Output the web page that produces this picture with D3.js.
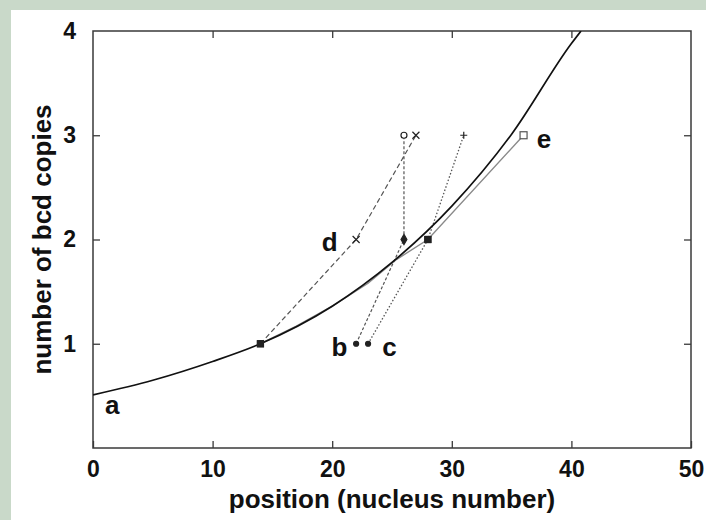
<!DOCTYPE html>
<html>
<head>
<meta charset="utf-8">
<script src="https://cdn.jsdelivr.net/npm/d3@7"></script>
<style>
  html, body { margin: 0; padding: 0; background: #c9d9c9; }
  svg { display: block; }
  text { font-family: "Liberation Sans", Arial, Helvetica, sans-serif; font-weight: bold; fill: #111; }
</style>
</head>
<body>
<svg id="chart" width="706" height="520"></svg>
<script>
// Theoretical bcd copy-number profile (curve a)
const curveX = [0, 5, 10, 14, 20, 25, 30, 35, 40, 40.8];
const curveY = [0.51, 0.65, 0.83, 1.00, 1.36, 1.78, 2.32, 3.01, 3.88, 4.00];

// Boundary shifts for 1, 2 and 3 copies (series b–e)
const bX = [22, 26, 26], bY = [1, 2, 3];
const cX = [23, 28, 31], cY = [1, 2, 3];
const dX = [14, 22, 27], dY = [1, 2, 3];
const eX = [14, 17, 20, 23, 25.4, 28, 36], eY = [1, 1.17, 1.36, 1.58, 1.81, 2, 3];

// Series name labels and where they sit (data units)
const labelNames = ["a", "b", "c", "d", "e"];
const labelX = [1.6, 20.6, 24.8, 19.8, 37.7];
const labelY = [0.41, 0.97, 0.97, 1.98, 2.96];

const xTicks = [0, 10, 20, 30, 40, 50];
const yTicks = [1, 2, 3, 4];

const svg = d3.select("#chart");

// white page
svg.append("rect").attr("x", 11).attr("y", 10).attr("width", 695).attr("height", 510).attr("fill", "#fff");

const L = 93, R = 691, T = 31, B = 448;
const x = d3.scaleLinear().domain([0, 50]).range([L, R]);
const y = d3.scaleLinear().domain([0, 4]).range([B, T]);

svg.append("defs").append("clipPath").attr("id", "plotclip")
  .append("rect").attr("x", L).attr("y", T).attr("width", R - L).attr("height", B - T);

// axes with inward ticks on all four sides
const frameColor = "#3a3a3a";
function styleAxis(g) {
  g.select(".domain").remove();
  g.selectAll(".tick line").attr("stroke", frameColor).attr("stroke-width", 1.3);
}
function styleLabels(g) {
  g.selectAll(".tick text").attr("font-size", 23)
    .attr("font-family", "Liberation Sans, Arial, sans-serif").attr("font-weight", "bold").attr("fill", "#111");
}
svg.append("g").attr("transform", `translate(0,${B})`)
  .call(d3.axisBottom(x).tickValues(xTicks).tickFormat(d3.format("d")).tickSizeInner(-7).tickSizeOuter(0).tickPadding(13))
  .call(styleAxis).call(styleLabels);
svg.append("g").attr("transform", `translate(0,${T})`)
  .call(d3.axisTop(x).tickValues(xTicks.slice(1, -1)).tickSizeInner(-7).tickSizeOuter(0).tickFormat(""))
  .call(styleAxis);
svg.append("g").attr("class", "yleft").attr("transform", `translate(${L},0)`)
  .call(d3.axisLeft(y).tickValues(yTicks).tickFormat(d3.format("d")).tickSizeInner(-7).tickSizeOuter(0).tickPadding(17))
  .call(styleAxis).call(styleLabels);
svg.append("g").attr("transform", `translate(${R},0)`)
  .call(d3.axisRight(y).tickValues(yTicks.slice(0, -1)).tickSizeInner(-7).tickSizeOuter(0).tickFormat(""))
  .call(styleAxis);

// the top value only carries a label; the frame line stands in for its tick
svg.select(".yleft").selectAll("g.tick").filter(d => d === 4).select("line").remove();

// frame
svg.append("rect").attr("x", L).attr("y", T).attr("width", R - L).attr("height", B - T)
  .attr("fill", "none").attr("stroke", frameColor).attr("stroke-width", 1.5);

// axis titles
svg.append("text").attr("x", (L + R) / 2).attr("y", 508).attr("text-anchor", "middle")
  .attr("font-size", 26).text("position (nucleus number)");
svg.append("text").attr("transform", `translate(51,${(T + B) / 2}) rotate(-90)`).attr("text-anchor", "middle")
  .attr("font-size", 26).text("number of bcd copies");

const plot = svg.append("g").attr("clip-path", "url(#plotclip)");
const toPts = (xs, ys) => xs.map((v, i) => [v, ys[i]]);
const line = d3.line().x(d => x(d[0])).y(d => y(d[1]));

// e: thin grey line
plot.append("path").datum(toPts(eX, eY)).attr("d", line)
  .attr("fill", "none").attr("stroke", "#8a8a8a").attr("stroke-width", 1.4);
// d: long dashes
plot.append("path").datum(toPts(dX, dY)).attr("d", line)
  .attr("fill", "none").attr("stroke", "#555").attr("stroke-width", 1.2).attr("stroke-dasharray", "5,3");
// b: short dashes
plot.append("path").datum(toPts(bX, bY)).attr("d", line)
  .attr("fill", "none").attr("stroke", "#555").attr("stroke-width", 1.2).attr("stroke-dasharray", "3,2");
// c: dots
plot.append("path").datum(toPts(cX, cY)).attr("d", line)
  .attr("fill", "none").attr("stroke", "#555").attr("stroke-width", 1.3).attr("stroke-dasharray", "1.5,2");
// a: smooth curve
plot.append("path").datum(toPts(curveX, curveY))
  .attr("d", d3.line().x(d => x(d[0])).y(d => y(d[1])).curve(d3.curveMonotoneX))
  .attr("fill", "none").attr("stroke", "#111").attr("stroke-width", 1.7);

// markers
const mk = svg.append("g").attr("stroke", "#222").attr("stroke-width", 1.2);
function marker(type, px, py) {
  const cx = x(px), cy = y(py);
  if (type === "sq") mk.append("rect").attr("x", cx - 3).attr("y", cy - 3).attr("width", 6).attr("height", 6).attr("fill", "#222");
  else if (type === "osq") mk.append("rect").attr("x", cx - 3.5).attr("y", cy - 3.5).attr("width", 7).attr("height", 7).attr("fill", "#fff").attr("stroke", "#555");
  else if (type === "ocirc") mk.append("circle").attr("cx", cx).attr("cy", cy).attr("r", 3).attr("fill", "#fff");
  else if (type === "dot") mk.append("circle").attr("cx", cx).attr("cy", cy).attr("r", 2.5).attr("fill", "#222");
  else if (type === "diam") mk.append("path").attr("d", d3.symbol(d3.symbolDiamond, 30)()).attr("transform", `translate(${cx},${cy})`).attr("fill", "#222");
  else if (type === "x") mk.append("path").attr("d", `M${cx - 3.5},${cy - 3.5}L${cx + 3.5},${cy + 3.5}M${cx - 3.5},${cy + 3.5}L${cx + 3.5},${cy - 3.5}`);
  else if (type === "plus") mk.append("path").attr("d", `M${cx - 3.5},${cy}L${cx + 3.5},${cy}M${cx},${cy - 3.5}L${cx},${cy + 3.5}`);
}
const bM = ["dot", "diam", "ocirc"], cM = ["dot", "sq", "plus"], dM = ["sq", "x", "x"];
bX.forEach((v, i) => marker(bM[i], v, bY[i]));
cX.forEach((v, i) => marker(cM[i], v, cY[i]));
dX.forEach((v, i) => marker(dM[i], v, dY[i]));
// e is marked only at its whole-copy points
[0, 5, 6].forEach((i, k) => marker(["sq", "sq", "osq"][k], eX[i], eY[i]));

// series labels
svg.append("g").selectAll("text").data(labelNames).join("text")
  .attr("x", (d, i) => x(labelX[i])).attr("y", (d, i) => y(labelY[i]))
  .attr("text-anchor", "middle").attr("dominant-baseline", "central")
  .attr("font-size", 26).text(d => d);
</script>
</body>
</html>
